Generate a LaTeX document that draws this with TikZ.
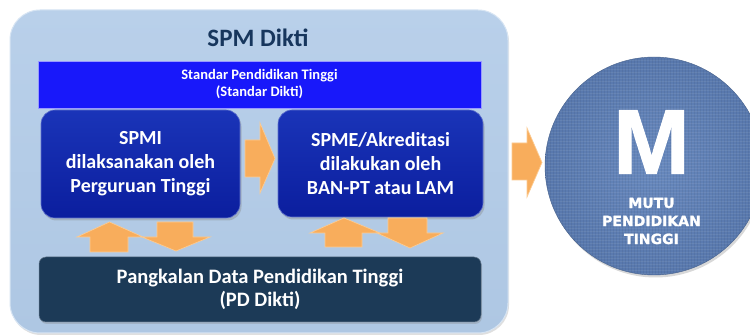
\documentclass[tikz,border=0pt]{standalone}
\usepackage{fontspec}
\setmainfont{Carlito}
\newfontfamily\arialfont[RawFeature={embolden=1.2}]{Liberation Sans Bold}
\newfontfamily\heavyfont[RawFeature={embolden=1.5}]{DejaVu Sans Bold}
\usetikzlibrary{shadows}
\definecolor{outerfill}{HTML}{AEC7E3}
\definecolor{outertop}{HTML}{B9D0EA}
\definecolor{outerline}{HTML}{D6E4F3}
\definecolor{titlecol}{HTML}{17365D}
\definecolor{barblue}{HTML}{1818FA}
\definecolor{boxblue}{HTML}{0B1E9E}
\definecolor{boxtop}{HTML}{1A34B8}
\definecolor{pdblue}{HTML}{1C3A57}
\definecolor{arrowor}{HTML}{F8AD5C}
\definecolor{arrowlt}{HTML}{FCCB92}
\definecolor{circblue}{HTML}{5878AD}
\definecolor{circlt}{HTML}{6889BE}
\tikzset{
  outerbox/.style={draw=outerline, line width=1pt, rounded corners=30pt,
    top color=outertop, bottom color=outerfill, minimum width=498pt, minimum height=323pt,
    drop shadow={opacity=0.25, shadow xshift=1pt, shadow yshift=-2pt}},
  barbox/.style={draw=blue!40!white, line width=0.5pt, fill=barblue, minimum width=443pt,
    minimum height=47pt, text=white, align=center, font=\bfseries\fontsize{14.5}{17}\selectfont},
  procbox/.style={draw=boxtop!70!white, line width=0.6pt, rounded corners=14pt,
    top color=boxtop, bottom color=boxblue, text=white, align=center,
    font=\bfseries\fontsize{20}{24}\selectfont,
    drop shadow={opacity=0.35, shadow xshift=1.5pt, shadow yshift=-2.5pt}},
  pdbox/.style={draw=pdblue!70!white, line width=0.5pt, rounded corners=7pt, fill=pdblue,
    minimum width=442pt, minimum height=65pt, text=white, align=center,
    font=\bfseries\fontsize{20.5}{23}\selectfont,
    drop shadow={opacity=0.3, shadow xshift=1pt, shadow yshift=-2pt}},
  blockarrow/.style={draw=arrowlt, line width=0.7pt, fill=arrowor, line join=miter},
  mutu/.style={circle, minimum size=218pt, inner sep=0pt,
    inner color=circlt, outer color=circblue, draw=circblue!80!black, line width=0.4pt,
    drop shadow={opacity=0.3, shadow xshift=1.5pt, shadow yshift=-2.5pt}},
}
\begin{document}
\begin{tikzpicture}[x=1pt,y=-1pt]
\useasboundingbox (0,0) rectangle (750,336);
\fill[white] (0,0) rectangle (750,336);
% outer container
\node[outerbox] (spm) at (259,171.5) {};
\node[text=titlecol, font=\bfseries\fontsize{25}{29}\selectfont] (title) at (258,38) {SPM Dikti};
% standard bar
\node[barbox] (std) at (259.5,84.5) {Standar Pendidikan Tinggi\\(Standar Dikti)};
% process boxes
\node[procbox, minimum width=199pt, minimum height=108pt] (spmi) at (140.5,164) {SPMI\\dilaksanakan oleh\\Perguruan Tinggi};
\node[procbox, minimum width=205pt, minimum height=107pt] (spme) at (380.5,163.5) {SPME/Akreditasi\\dilakukan oleh\\BAN-PT atau LAM};
% database box
\node[pdbox] (pd) at (260,289.5) {Pangkalan Data Pendidikan Tinggi\\(PD Dikti)};
% arrow SPMI -> SPME
\draw[blockarrow] (245,140) -- (260,140) -- (260,123) -- (275,158.5) -- (260,193) -- (260,177) -- (245,177) -- cycle;
% left pair of arrows
\draw[blockarrow] (90,252) -- (90,237) -- (77,237) -- (109.5,222) -- (143,237) -- (128,237) -- (128,252) -- cycle;
\draw[blockarrow] (157,222) -- (193,222) -- (193,237) -- (210,237) -- (176,251) -- (142,237) -- (157,237) -- cycle;
% right pair of arrows
\draw[blockarrow] (325,247) -- (325,233) -- (310,233) -- (344,218) -- (380,233) -- (362,233) -- (362,247) -- cycle;
\draw[blockarrow] (388,218) -- (427,218) -- (427,233) -- (443,233) -- (410,248) -- (377,233) -- (388,233) -- cycle;
% arrow to circle
\draw[blockarrow] (512,143) -- (527,143) -- (527,128) -- (542,162.5) -- (527,197) -- (527,180) -- (512,180) -- cycle;
% quality circle
\node[mutu] (circ) at (654,166) {};
\begin{scope}
\clip (654,166) circle (108.5);
\foreach \yy in {57,60,...,276} {\draw[white, opacity=0.07, line width=0.8pt] (544,\yy) -- (764,\yy);}
\foreach \xx in {544,547,...,764} {\draw[black, opacity=0.05, line width=0.6pt] (\xx,57) -- (\xx,276);}
\end{scope}
\node[text=white, font=\arialfont\fontsize{92}{92}\selectfont, inner sep=0pt] (m) at (651.5,142) {M};
\node[text=white, align=center, font=\heavyfont\fontsize{14}{18}\selectfont, inner sep=0pt] (mutu) at (651.5,221) {MUTU\\PENDIDIKAN\\TINGGI};
\end{tikzpicture}
\end{document}
